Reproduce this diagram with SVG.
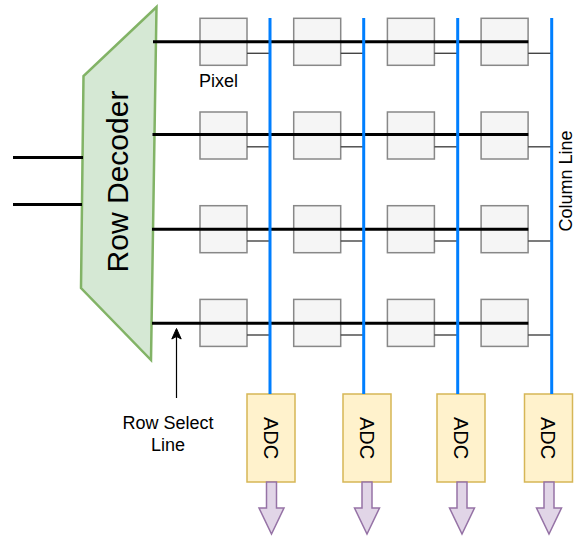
<svg xmlns="http://www.w3.org/2000/svg" width="576" height="536" viewBox="0 0 576 536">
  <style>
    text { font-family: "Liberation Sans", Arial, sans-serif; fill: #000; }
    .pixel { fill: #f5f5f5; stroke: #888; stroke-width: 1.5; }
    .adc { fill: #fff2cc; stroke: #d6b656; stroke-width: 1.5; }
    .out { fill: #e1d5e7; stroke: #9673a6; stroke-width: 1.5; stroke-linejoin: miter; }
    .row { stroke: #000; stroke-width: 3; fill: none; }
    .col { stroke: #007fff; stroke-width: 3; fill: none; }
    .stub { stroke: #444; stroke-width: 1.4; fill: none; }
    .lbl { font-size: 18px; }
  </style>
  <defs>
    <rect id="px" class="pixel" width="47" height="47"/>
    <path id="outArrow" class="out" d="M-5,0 H5 V26 H12.5 L0,52 L-12.5,26 H-5 Z"/>
  </defs>

  <!-- row decoder block -->
  <g id="row-decoder">
    <polygon points="156.5,7 151,360 81,288 83.5,76" fill="#d5e8d4" stroke="#82b366" stroke-width="2.5" stroke-linejoin="miter"/>
    <text transform="translate(128,181.5) rotate(-90)" text-anchor="middle" font-size="30">Row Decoder</text>
  </g>

  <!-- pixel array, 4 x 4 -->
  <g id="pixels">
    <g id="pixel-r1c1"><use href="#px" x="200" y="18.3"/></g>
    <g id="pixel-r1c2"><use href="#px" x="293.7" y="18.3"/></g>
    <g id="pixel-r1c3"><use href="#px" x="387.4" y="18.3"/></g>
    <g id="pixel-r1c4"><use href="#px" x="481.1" y="18.3"/></g>
    <g id="pixel-r2c1"><use href="#px" x="200" y="112"/></g>
    <g id="pixel-r2c2"><use href="#px" x="293.7" y="112"/></g>
    <g id="pixel-r2c3"><use href="#px" x="387.4" y="112"/></g>
    <g id="pixel-r2c4"><use href="#px" x="481.1" y="112"/></g>
    <g id="pixel-r3c1"><use href="#px" x="200" y="205.7"/></g>
    <g id="pixel-r3c2"><use href="#px" x="293.7" y="205.7"/></g>
    <g id="pixel-r3c3"><use href="#px" x="387.4" y="205.7"/></g>
    <g id="pixel-r3c4"><use href="#px" x="481.1" y="205.7"/></g>
    <g id="pixel-r4c1"><use href="#px" x="200" y="299.4"/></g>
    <g id="pixel-r4c2"><use href="#px" x="293.7" y="299.4"/></g>
    <g id="pixel-r4c3"><use href="#px" x="387.4" y="299.4"/></g>
    <g id="pixel-r4c4"><use href="#px" x="481.1" y="299.4"/></g>
  </g>

  <!-- column ADCs -->
  <g id="adc-1">
    <rect class="adc" x="247" y="394" width="48" height="88"/>
    <text transform="translate(271,438) rotate(90)" y="7.2" text-anchor="middle" font-size="20">ADC</text>
  </g>
  <g id="adc-2">
    <rect class="adc" x="343" y="394" width="48" height="88"/>
    <text transform="translate(367,438) rotate(90)" y="7.2" text-anchor="middle" font-size="20">ADC</text>
  </g>
  <g id="adc-3">
    <rect class="adc" x="437" y="394" width="48" height="88"/>
    <text transform="translate(461,438) rotate(90)" y="7.2" text-anchor="middle" font-size="20">ADC</text>
  </g>
  <g id="adc-4">
    <rect class="adc" x="524.5" y="394" width="48" height="88"/>
    <text transform="translate(548.5,438) rotate(90)" y="7.2" text-anchor="middle" font-size="20">ADC</text>
  </g>

  <!-- digital outputs -->
  <g id="outputs">
    <use href="#outArrow" x="271.5" y="482"/>
    <use href="#outArrow" x="367" y="482"/>
    <use href="#outArrow" x="462" y="482"/>
    <use href="#outArrow" x="549" y="482"/>
  </g>

  <!-- wiring: decoder inputs, row select lines, column lines, pixel taps -->
  <g id="connectors">
    <line class="row" x1="13" y1="157.5" x2="83" y2="157.5"/>
    <line class="row" x1="13" y1="204.5" x2="82" y2="204.5"/>

    <line class="stub" x1="247" y1="53.3" x2="270" y2="53.3"/>
    <line class="stub" x1="340.7" y1="53.3" x2="363.7" y2="53.3"/>
    <line class="stub" x1="434.4" y1="53.3" x2="457.7" y2="53.3"/>
    <line class="stub" x1="528.1" y1="53.3" x2="551.7" y2="53.3"/>
    <line class="stub" x1="247" y1="146.8" x2="270" y2="146.8"/>
    <line class="stub" x1="340.7" y1="146.8" x2="363.7" y2="146.8"/>
    <line class="stub" x1="434.4" y1="146.8" x2="457.7" y2="146.8"/>
    <line class="stub" x1="528.1" y1="146.8" x2="551.7" y2="146.8"/>
    <line class="stub" x1="247" y1="241" x2="270" y2="241"/>
    <line class="stub" x1="340.7" y1="241" x2="363.7" y2="241"/>
    <line class="stub" x1="434.4" y1="241" x2="457.7" y2="241"/>
    <line class="stub" x1="528.1" y1="241" x2="551.7" y2="241"/>
    <line class="stub" x1="247" y1="335" x2="270" y2="335"/>
    <line class="stub" x1="340.7" y1="335" x2="363.7" y2="335"/>
    <line class="stub" x1="434.4" y1="335" x2="457.7" y2="335"/>
    <line class="stub" x1="528.1" y1="335" x2="551.7" y2="335"/>

    <line class="row" x1="153" y1="41.8" x2="528.3" y2="41.8"/>
    <line class="row" x1="152.5" y1="134.5" x2="528.3" y2="134.5"/>
    <line class="row" x1="152" y1="229.3" x2="528.3" y2="229.3"/>
    <line class="row" x1="152" y1="323.2" x2="528.3" y2="323.2"/>

    <line class="col" x1="270" y1="18" x2="270" y2="394"/>
    <line class="col" x1="363.7" y1="18" x2="363.7" y2="394"/>
    <line class="col" x1="457.7" y1="18" x2="457.7" y2="394"/>
    <line class="col" x1="551.7" y1="18" x2="551.7" y2="394"/>

    <line x1="176.5" y1="398" x2="176.5" y2="336" stroke="#000" stroke-width="1.2"/>
    <path d="M176.5,328.5 L181.2,339 L176.5,336.5 L171.8,339 Z" fill="#000" stroke="#000" stroke-width="1"/>
  </g>

  <!-- labels -->
  <g id="labels">
    <text class="lbl" x="199" y="87">Pixel</text>
    <text class="lbl" transform="translate(565.6,181) rotate(-90)" y="6.4" text-anchor="middle">Column Line</text>
    <text class="lbl" x="168" y="429.3" text-anchor="middle">Row Select</text>
    <text class="lbl" x="168" y="451" text-anchor="middle">Line</text>
  </g>
</svg>
